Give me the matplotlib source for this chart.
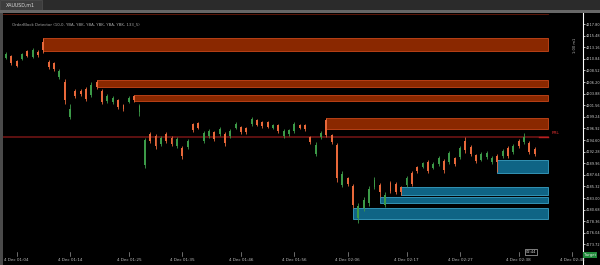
import matplotlib
matplotlib.use("Agg")
import matplotlib.pyplot as plt
import matplotlib.transforms as mtransforms
from matplotlib.patches import Rectangle
import numpy as np

# m1 candles
opens = [4211.0, 4211.4, 4210.4, 4210.8, 4212.4, 4211.2, 4212.2, 4214.2, 4210.2, 4210.0,
         4207.2, 4206.2, 4199.2, 4204.4, 4204.4, 4204.8, 4203.6, 4206.2, 4204.4, 4202.4,
         4202.2, 4202.6, 4201.6, 4202.2, 4203.4, 4200.2, 4189.6, 4195.8, 4195.4, 4193.8,
         4195.8, 4195.0, 4193.4, 4193.0, 4193.2, 4197.8, 4198.0, 4194.4, 4195.4, 4196.2,
         4195.8, 4195.8, 4195.4, 4197.0, 4197.2, 4197.0, 4197.8, 4198.6, 4198.2, 4198.2,
         4197.0, 4197.6, 4195.4, 4195.8, 4196.4, 4197.6, 4197.6, 4195.2, 4191.8, 4195.2,
         4198.6, 4195.6, 4193.6, 4185.6, 4187.0, 4185.4, 4179.0, 4181.0, 4182.0, 4185.2,
         4185.6, 4181.6, 4186.0, 4185.8, 4185.2, 4185.6, 4188.0, 4189.2, 4189.2, 4190.2,
         4189.0, 4189.8, 4190.4, 4190.2, 4191.0, 4191.2, 4194.4, 4193.2, 4191.6, 4190.6,
         4191.2, 4190.2, 4191.4, 4191.4, 4193.0, 4192.2, 4194.4, 4194.2, 4194.0, 4192.8]
highs = [4212.2, 4211.6, 4210.6, 4212.0, 4212.6, 4213.0, 4212.6, 4215.0, 4210.6, 4210.2,
         4208.8, 4206.8, 4201.8, 4204.8, 4204.8, 4205.2, 4206.2, 4206.6, 4204.8, 4203.8,
         4203.4, 4202.8, 4201.8, 4203.4, 4203.6, 4201.8, 4195.0, 4196.2, 4195.8, 4195.4,
         4196.2, 4195.4, 4195.2, 4193.4, 4194.8, 4198.0, 4198.2, 4196.4, 4196.8, 4196.4,
         4197.2, 4196.2, 4196.8, 4198.2, 4197.4, 4197.2, 4199.2, 4198.8, 4198.4, 4198.4,
         4197.8, 4197.8, 4196.8, 4196.8, 4198.2, 4197.8, 4197.8, 4195.4, 4194.2, 4196.4,
         4199.0, 4195.8, 4194.0, 4188.4, 4187.2, 4185.8, 4182.0, 4183.2, 4185.4, 4187.2,
         4186.0, 4184.2, 4186.4, 4186.2, 4185.4, 4187.4, 4188.4, 4189.4, 4190.2, 4190.6,
         4190.2, 4191.4, 4190.8, 4192.4, 4191.2, 4193.4, 4195.2, 4193.6, 4191.8, 4192.2,
         4192.4, 4191.4, 4191.8, 4192.8, 4193.4, 4193.8, 4194.8, 4196.0, 4194.4, 4193.2]
lows = [4210.8, 4209.6, 4209.2, 4210.6, 4211.2, 4211.0, 4211.2, 4212.0, 4208.8, 4208.4,
        4206.8, 4201.8, 4198.8, 4203.0, 4203.4, 4202.4, 4203.2, 4204.8, 4201.8, 4202.0,
        4201.8, 4200.8, 4200.4, 4202.0, 4202.2, 4199.4, 4189.0, 4194.0, 4192.8, 4193.4,
        4194.0, 4193.4, 4193.0, 4190.8, 4192.8, 4196.2, 4196.8, 4194.0, 4195.0, 4194.4,
        4195.4, 4193.4, 4195.0, 4196.8, 4195.8, 4195.8, 4197.4, 4197.4, 4197.0, 4197.0,
        4196.8, 4196.0, 4195.0, 4195.4, 4196.0, 4196.8, 4196.4, 4193.8, 4191.4, 4194.8,
        4195.2, 4193.8, 4186.2, 4185.2, 4185.4, 4181.0, 4178.0, 4180.4, 4181.4, 4184.8,
        4183.2, 4181.2, 4184.0, 4183.8, 4183.6, 4185.2, 4185.4, 4188.0, 4189.0, 4188.0,
        4188.8, 4189.4, 4188.0, 4189.8, 4189.4, 4190.8, 4192.0, 4191.4, 4190.0, 4190.4,
        4190.8, 4189.8, 4188.2, 4191.0, 4191.0, 4191.8, 4193.0, 4193.8, 4191.8, 4191.4]
closes = [4211.8, 4210.0, 4209.4, 4211.8, 4211.4, 4212.6, 4211.6, 4212.6, 4209.2, 4208.8,
          4208.4, 4202.6, 4200.8, 4203.4, 4203.8, 4202.8, 4205.6, 4205.2, 4202.2, 4203.4,
          4203.0, 4201.2, 4200.8, 4203.0, 4202.6, 4201.4, 4194.6, 4194.4, 4193.4, 4195.0,
          4194.4, 4193.8, 4194.8, 4191.4, 4194.4, 4196.6, 4197.0, 4196.0, 4196.4, 4194.8,
          4196.8, 4194.0, 4196.4, 4197.8, 4196.2, 4196.2, 4198.8, 4197.6, 4197.4, 4197.2,
          4197.6, 4196.4, 4196.4, 4196.6, 4197.8, 4197.0, 4196.8, 4194.2, 4193.6, 4196.0,
          4195.6, 4194.2, 4187.0, 4187.8, 4185.8, 4181.6, 4181.4, 4182.6, 4184.8, 4186.6,
          4184.2, 4183.6, 4184.4, 4184.2, 4184.2, 4187.0, 4185.8, 4188.4, 4190.0, 4188.4,
          4189.8, 4191.0, 4188.6, 4192.0, 4189.8, 4193.0, 4192.6, 4191.8, 4190.4, 4191.8,
          4192.0, 4191.0, 4190.2, 4192.4, 4191.4, 4193.4, 4193.4, 4195.2, 4192.2, 4191.8]

# order block zones: start candle, top, bottom
supply_start = [7, 17, 24, 60]
supply_top = [4215.0, 4206.6, 4203.6, 4199.0]
supply_bot = [4212.4, 4205.2, 4202.4, 4196.8]
demand_start = [92, 74, 70, 65]
demand_top = [4190.6, 4185.2, 4183.2, 4181.0]
demand_bot = [4188.0, 4183.6, 4182.0, 4178.8]
zone_end = 101.5
frl_level = 4195.2
top_level = 4219.9

price_ticks = [4217.80, 4215.48, 4213.16, 4210.84, 4208.52, 4206.20, 4203.88, 4201.56,
               4199.24, 4196.92, 4194.60, 4192.28, 4189.96, 4187.64, 4185.32, 4183.00,
               4180.68, 4178.36, 4176.04, 4173.72]
time_labels = ['4 Dec 01:04', '4 Dec 01:14', '4 Dec 01:25', '4 Dec 01:35', '4 Dec 01:46',
               '4 Dec 01:56', '4 Dec 02:06', '4 Dec 02:17', '4 Dec 02:27', '4 Dec 02:38',
               '4 Dec 02:48']
time_pos = [2, 12, 23, 33, 44, 54, 64, 75, 85, 96, 106]

UP = '#3c9a48'
DOWN = '#e8683a'

fig = plt.figure(figsize=(6, 2.65), dpi=100, facecolor='black')
ax = fig.add_axes([3 / 600, 0, 580 / 600, 252 / 265])
ax.set_facecolor('black')
ax.set_xlim(-0.56, 108.05)
ax.set_ylim(4169.6, 4220.0)

# zones
for s, t, b in zip(supply_start, supply_top, supply_bot):
    ax.add_patch(Rectangle((s, b), zone_end - s, t - b, facecolor='#8a2800',
                           edgecolor='#c9471a', lw=0.6, zorder=1))
for s, t, b in zip(demand_start, demand_top, demand_bot):
    ax.add_patch(Rectangle((s, b), zone_end - s, t - b, facecolor='#0f6485',
                           edgecolor='#3aa2c6', lw=0.6, zorder=1))

ax.plot([-0.56, zone_end], [frl_level, frl_level], color='#6e1414', lw=1.2, zorder=0.5)
ax.plot([zone_end - 1.6, zone_end], [frl_level, frl_level], color='#b82020', lw=1.0, zorder=2)
ax.text(zone_end + 0.6, frl_level + 0.5, 'FRL', color='#e03030', fontsize=3.2,
        va='bottom', ha='left')
ax.plot([-0.56, zone_end], [top_level, top_level], color='#6a1a0a', lw=0.6, zorder=0.5)

# candles
o = np.array(opens); c = np.array(closes)
x = np.arange(len(o))
cols = [UP if cc >= oo else DOWN for oo, cc in zip(o, c)]
ax.vlines(x, lows, highs, colors=cols, lw=0.6, zorder=3)
ax.bar(x, np.maximum(np.abs(c - o), 0.15), bottom=np.minimum(o, c), width=0.36,
       color=cols, lw=0, zorder=3)

# price axis
for sp in ['top', 'left', 'bottom']:
    ax.spines[sp].set_visible(False)
ax.spines['right'].set_color('white')
ax.spines['right'].set_linewidth(0.8)
ax.yaxis.tick_right()
ax.set_yticks(price_ticks)
ax.set_yticklabels([f'{v:.2f}' for v in price_ticks])
ax.tick_params(axis='y', colors='white', labelcolor='#d0d0d0', labelsize=2.5,
               length=1.5, width=0.5, pad=0.5)
ax.set_xticks([])

# time axis inside the chart
trans = mtransforms.blended_transform_factory(ax.transData, ax.transAxes)
for p, lab in zip(time_pos, time_labels):
    ax.text(p, 0.012, lab, transform=trans, ha='center', va='bottom', fontsize=3,
            color='#bdbdbd')
    ax.plot([p, p], [0.035, 0.05], transform=trans, color='#bdbdbd', lw=0.4)
ax.text(98.3, 0.045, '02:44', transform=trans, ha='center', va='bottom', fontsize=2.6,
        color='#dddddd', bbox=dict(boxstyle='square,pad=0.3', fc='black', ec='#dddddd', lw=0.4))

ax.text(1.2, 0.955, 'OrderBlock Detector (10,0, YBA, YBK, YBA, YBK, YBA, YBK, 133_5)',
        transform=trans, fontsize=2.8, color='#a8a8a8', va='center')
ax.text(106.6, 0.87, '1:00 m1', transform=trans, fontsize=2.6, color='#bbbbbb',
        rotation=90, va='center', ha='center')

# target label on the price axis
fig.text(584 / 600, 10 / 265, 'Target', fontsize=2.8, color='#e8e8e8', va='center',
         ha='left', bbox=dict(boxstyle='square,pad=0.25', fc='#1f8a3a', ec='none'))

# window chrome
fig.add_artist(Rectangle((0, 1 - 10 / 265), 1, 10 / 265, transform=fig.transFigure,
                         facecolor='#2b2b2b', edgecolor='none'))
fig.add_artist(Rectangle((0, 1 - 10 / 265), 42 / 600, 10 / 265, transform=fig.transFigure,
                         facecolor='#3d3d3d', edgecolor='#555555', lw=0.4))
fig.add_artist(Rectangle((0, 1 - 13 / 265), 1, 3 / 265, transform=fig.transFigure,
                         facecolor='#676767', edgecolor='none'))
fig.add_artist(Rectangle((0, 0), 3 / 600, 252 / 265, transform=fig.transFigure,
                         facecolor='#4a4a4a', edgecolor='none'))
fig.text(6 / 600, 1 - 5 / 265, 'XAUUSD,m1', fontsize=3.4, color='#d8d8d8', va='center')

fig.savefig('out.png', dpi=100, facecolor='black')
